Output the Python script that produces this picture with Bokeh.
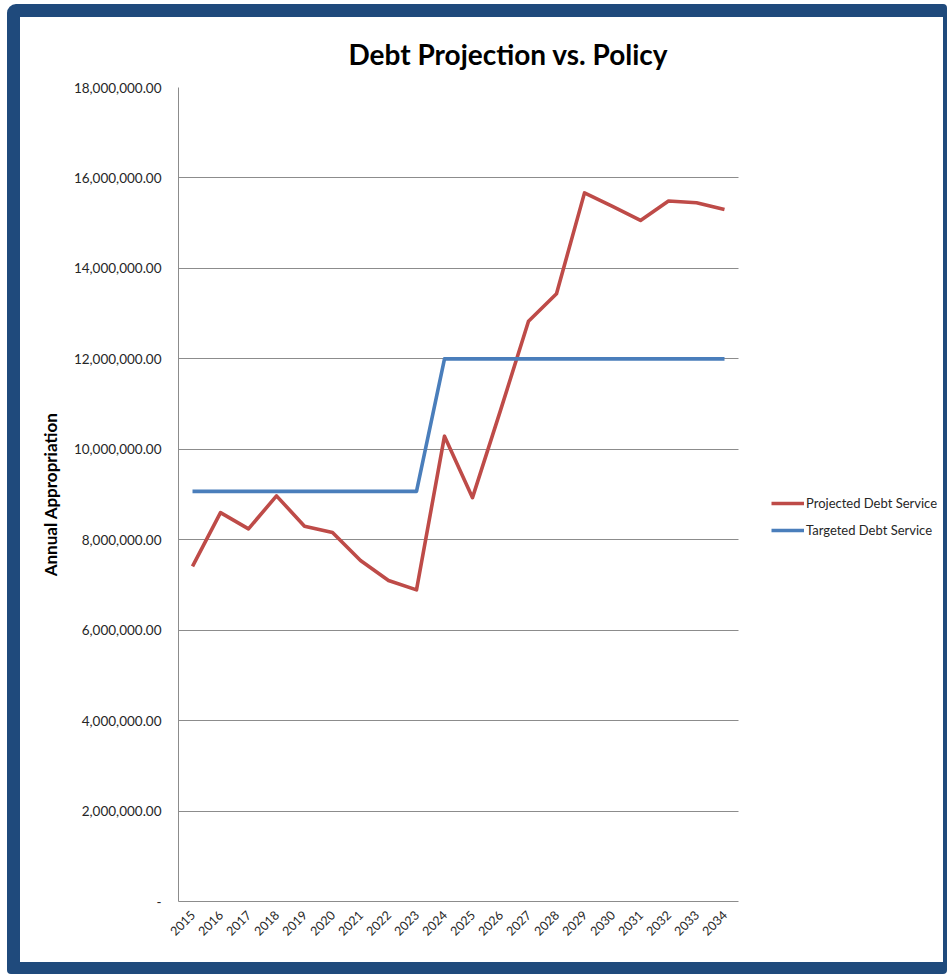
from bokeh.plotting import figure
from bokeh.models import Legend, LegendItem, FixedTicker, Range1d
from bokeh.embed import file_html
from bokeh.resources import INLINE

years = ["2015", "2016", "2017", "2018", "2019", "2020", "2021", "2022", "2023", "2024",
         "2025", "2026", "2027", "2028", "2029", "2030", "2031", "2032", "2033", "2034"]
projected = [7410000, 8600000, 8240000, 8970000, 8300000, 8160000, 7540000, 7100000, 6890000, 10290000,
             8930000, 10860000, 12830000, 13440000, 15670000, 15370000, 15060000, 15490000, 15450000, 15300000]
targeted = [9070000, 9070000, 9070000, 9070000, 9070000, 9070000, 9070000, 9070000, 9070000, 12000000,
            12000000, 12000000, 12000000, 12000000, 12000000, 12000000, 12000000, 12000000, 12000000, 12000000]
y_ticks = [0, 2000000, 4000000, 6000000, 8000000, 10000000, 12000000, 14000000, 16000000, 18000000]
y_tick_labels = ["-", "2,000,000.00", "4,000,000.00", "6,000,000.00", "8,000,000.00", "10,000,000.00",
                 "12,000,000.00", "14,000,000.00", "16,000,000.00", "18,000,000.00"]

FONT = "Lato"
RED = "#BE4B48"
BLUE = "#4A7EBB"
GRID = "#8C8C8C"
FRAME = "#1F4A7C"

# category positions (one slot per year)
xpos = list(range(len(years)))
cat_lo, cat_hi = -0.5, len(years) - 0.5

# layout (pixels): chart area 560 px wide, frame extended to the right to hold the legend
W, H = 940, 970
LEFT, RIGHT, TOP, BOTTOM = 158, 19, 68, 86
chart_px = 560
frame_px = W - LEFT - RIGHT
x_end = cat_lo + (cat_hi - cat_lo) * frame_px / chart_px

p = figure(width=W, height=H, x_range=Range1d(cat_lo, x_end), y_range=Range1d(0, 18000000),
           output_backend="svg", toolbar_location=None,
           min_border_left=LEFT, min_border_right=RIGHT, min_border_top=TOP, min_border_bottom=BOTTOM)
p.styles = {"border-style": "solid", "border-color": FRAME, "border-width": "13px 4px 12px 13px",
            "border-radius": "9px 4px 4px 4px", "margin-left": "7px", "margin-top": "4px",
            "overflow": "hidden"}

p.title.text = "Debt Projection vs. Policy"
p.title.text_font = FONT
p.title.text_font_style = "bold"
p.title.text_font_size = "28px"
p.title.text_color = "#000000"
p.title.align = "left"
p.title.offset = 170
p.title.standoff = 34

p.outline_line_color = None
p.background_fill_color = "white"
p.border_fill_color = "white"

# horizontal grid lines limited to the chart area
p.xgrid.grid_line_color = None
p.ygrid.ticker = FixedTicker(ticks=y_ticks)
p.ygrid.grid_line_color = GRID
if "cross_bounds" in p.ygrid[0].properties():
    p.ygrid.cross_bounds = (cat_lo, cat_hi)
else:
    p.ygrid.grid_line_color = None
    p.segment(x0=[cat_lo] * len(y_ticks), x1=[cat_hi] * len(y_ticks), y0=y_ticks, y1=y_ticks,
              line_color=GRID, line_width=1)

r1 = p.line(xpos, projected, line_color=RED, line_width=3.6, line_join="round")
r2 = p.line(xpos, targeted, line_color=BLUE, line_width=3.6, line_join="round")

p.yaxis.ticker = FixedTicker(ticks=y_ticks)
p.yaxis.major_label_overrides = {t: l for t, l in zip(y_ticks, y_tick_labels)}
p.xaxis.ticker = FixedTicker(ticks=xpos)
p.xaxis.major_label_overrides = {i: y for i, y in zip(xpos, years)}
p.xaxis.bounds = (cat_lo, cat_hi)

for ax in (p.xaxis, p.yaxis):
    ax.axis_line_color = GRID
    ax.axis_line_width = 1
    ax.major_tick_line_color = None
    ax.minor_tick_line_color = None
    ax.major_label_text_font = FONT
    ax.major_label_text_color = "#262626"

p.yaxis.major_label_text_font_size = "13.5px"
p.yaxis.major_label_standoff = 11
p.yaxis.axis_label = "Annual Appropriation"
p.yaxis.axis_label_text_font = FONT
p.yaxis.axis_label_text_font_style = "bold"
p.yaxis.axis_label_text_font_size = "17px"
p.yaxis.axis_label_text_color = "#000000"
p.yaxis.axis_label_standoff = 10

p.xaxis.major_label_orientation = 0.785398
p.xaxis.major_label_standoff = 5
p.xaxis.major_label_text_font_size = "12.5px"

legend = Legend(items=[LegendItem(label="Projected Debt Service", renderers=[r1]),
                       LegendItem(label="Targeted Debt Service", renderers=[r2])],
                location=(593, 361))
legend.label_text_font = FONT
legend.label_text_font_size = "13px"
legend.label_text_color = "#262626"
legend.glyph_width = 33
legend.glyph_height = 20
legend.spacing = 7
legend.padding = 0
legend.margin = 0
legend.label_standoff = 2
legend.border_line_color = None
legend.background_fill_color = None
p.add_layout(legend)

open("out.html", "w").write(file_html(p, INLINE))
